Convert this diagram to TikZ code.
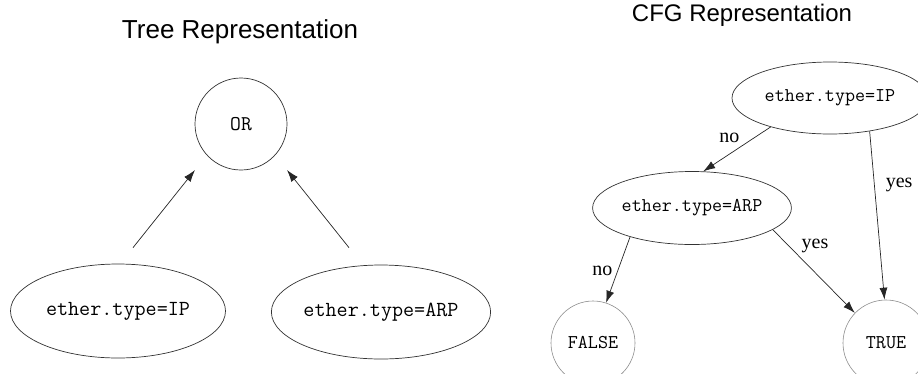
\documentclass[tikz,border=0pt]{standalone}
\usepackage{fontspec}
\setmainfont{Liberation Serif}
\setsansfont{Liberation Sans}
\usetikzlibrary{shapes.geometric,arrows.meta,calc}
\tikzset{
	test/.style = {draw = black!80, ellipse, inner sep = 0pt, line width = 0.7pt},
	leaf/.style = {draw = black!45, circle, inner sep = 0pt, line width = 0.6pt},
	arr/.style = {draw = black!85, line width = 0.7pt, -{Latex[length = 12pt, width = 8pt]}},
	lbl/.style = {inner sep = 0pt, font = \fontsize{20}{22}\selectfont},
	title/.style = {font = \sffamily\fontsize{#1}{#1}\selectfont}
}
\begin{document}
\begin{tikzpicture}[x = 1pt, y = -1pt]
	\useasboundingbox (0,0) rectangle (918,373);
	% tree representation
	\node [title = 26] (ttree) at (240,32) {Tree Representation};
	\node [draw = black!80, circle, line width = 0.7pt, minimum size = 92pt, inner sep = 0pt,
		font = \ttfamily\fontsize{21}{23}\selectfont] (orn) at (241,124) {OR};
	\node [test, minimum width = 215pt, minimum height = 94pt,
		font = \ttfamily\fontsize{21.5}{23}\selectfont] (lip) at (118,311) {ether.type=IP};
	\node [test, minimum width = 216pt, minimum height = 94pt,
		font = \ttfamily\fontsize{21.5}{23}\selectfont] (rarp) at (381,312) {ether.type=ARP};
	\draw [arr] ($(lip.north)+(15,-16)$) -- ($(orn.center)+(-46,46)$);
	\draw [arr] ($(rarp.north)+(-32,-17)$) -- ($(orn.center)+(46,46)$);
	% cfg representation
	\node [title = 24] (tcfg) at (742,15) {CFG Representation};
	\node [test, minimum width = 196pt, minimum height = 72pt,
		font = \ttfamily\fontsize{19.5}{21}\selectfont] (ip) at (830,98) {ether.type=IP};
	\node [test, minimum width = 196pt, minimum height = 73pt,
		font = \ttfamily\fontsize{19.5}{21}\selectfont] (arp) at (692,208) {ether.type=ARP};
	\node [leaf, minimum size = 84pt, font = \ttfamily\fontsize{19.5}{21}\selectfont] (false) at (593,343) {FALSE};
	\node [leaf, minimum size = 86pt, font = \ttfamily\fontsize{19.5}{21}\selectfont] (true) at (886,343) {TRUE};
	\draw [arr] (ip.206) -- node [lbl, pos = 0.25, left = 14pt] {no} (arp.73);
	\draw [arr] (ip.-40) -- node [lbl, pos = 0.32, right = 11pt] {yes} (true.92);
	\draw [arr] (arp.-15) -- node [lbl, pos = 0.19, right = 13pt] {yes} (true.136);
	\draw [arr] (arp.205) -- node [lbl, pos = 0.515, left = 5pt] {no} (false.72);
\end{tikzpicture}
\end{document}
